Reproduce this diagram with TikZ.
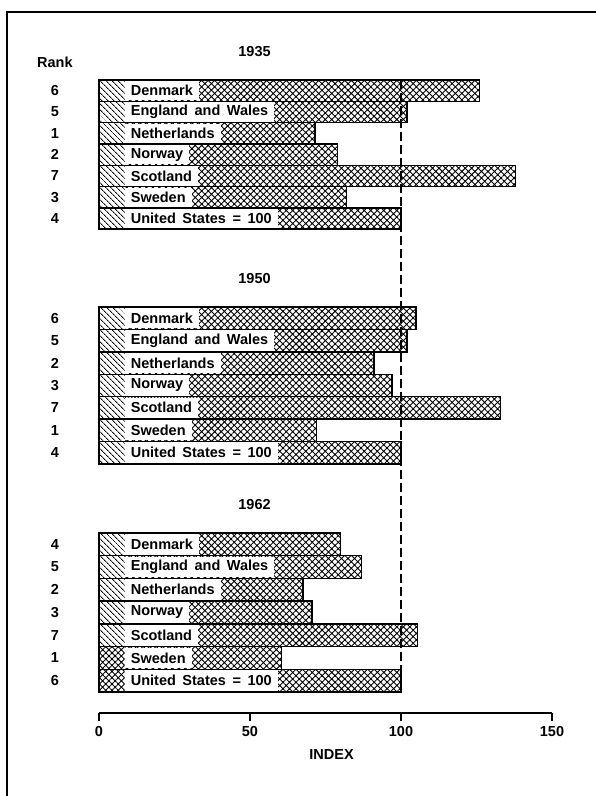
\documentclass[tikz,border=0pt]{standalone}
\usepackage{fontspec}
\setmainfont{Liberation Sans}
\usepackage{tikz}
\usetikzlibrary{patterns.meta}

\newcommand{\chartfont}{\fontsize{14.5}{16}\selectfont\bfseries\spaceskip=.45em\relax}
% one year: top of first bar, row height, year, list rank/value/label/stub
\newcommand{\yearblock}[4]{%
  \node[yeartitle] (title#3) at (51.5,{#1-28}) {#3};
  \foreach \rk/\v/\name/\stub [count=\i] in {#4} {
    \pgfmathsetmacro{\ytop}{#1+(\i-1)*#2}
    \pgfmathsetmacro{\ybot}{\ytop+#2}
    \pgfmathsetmacro{\ymid}{\ytop+#2/2}
    \fill[crossfill] (0,\ytop) rectangle (\v,\ybot);
    \fill[white] (0,\ytop) rectangle (8.5,\ybot);
    \fill[stub\stub] (0,\ytop) rectangle (8.5,\ybot);
    \node[barlabel,minimum height=#2pt-2pt] (bar#3-\i) at (8.5,\ymid) {\name};
    \draw[barline] (0,\ytop) rectangle (\v,\ybot);
    \node[ranklabel] (rank#3-\i) at (-14.6,\ymid) {\rk};
  }
}

\begin{document}
\begin{tikzpicture}[x=3.02pt,y=-1pt,
    crossfill/.style={pattern={Hatch[angle=45,distance=4.6pt,line width=.9pt]}},
    stubl/.style={pattern={Lines[angle=-45,distance=4pt,line width=.9pt]}},
    stubc/.style={pattern={Hatch[angle=45,distance=4.4pt,line width=.9pt]}},
    barline/.style={line width=1.4pt},
    barlabel/.style={anchor=west,fill=white,inner xsep=6pt,inner ysep=0pt,font=\chartfont},
    ranklabel/.style={font=\chartfont},
    yeartitle/.style={font=\chartfont},
    axisline/.style={line width=1.3pt},
    guide/.style={line width=1.2pt,dash pattern=on 9pt off 4pt}]
  \useasboundingbox (0pt,0pt) rectangle (596pt,-796pt);
  \draw[line width=1.3pt] (596pt,-12pt) -- (7pt,-12pt) -- (7pt,-796pt);

  \begin{scope}[xshift=99pt]
    \node[ranklabel] (ranktitle) at (-14.6,62) {Rank};

    \yearblock{80}{21.3}{1935}{6/126/Denmark/l, 5/102/England and Wales/l,
      1/71.5/Netherlands/l, 2/79/Norway/l, 7/138/Scotland/l, 3/82/Sweden/l,
      4/100/United States = 100/l}
    \yearblock{307}{22.4}{1950}{6/105/Denmark/l, 5/102/England and Wales/l,
      2/91/Netherlands/l, 3/97/Norway/l, 7/133/Scotland/l, 1/72/Sweden/l,
      4/100/United States = 100/l}
    \yearblock{533}{22.7}{1962}{4/80/Denmark/l, 5/87/England and Wales/l,
      2/67.5/Netherlands/l, 3/70.5/Norway/l, 7/105.5/Scotland/l, 1/60.5/Sweden/c,
      6/100/United States = 100/c}

    % United States = 100
    \coordinate (guidetop) at (100,80);
    \coordinate (guidebot) at (100,692);
    \draw[guide] (guidetop) -- (guidebot);

    % index axis
    \draw[axisline] (0,713) -- (150,713);
    \foreach \t in {0,50,100,150}
      \draw[axisline] (\t,713) -- (\t,721) node[below=1pt,font=\chartfont] (tick\t) {\t};
    \node[font=\chartfont] (indexlabel) at (77,755) {INDEX};
  \end{scope}
\end{tikzpicture}
\end{document}
